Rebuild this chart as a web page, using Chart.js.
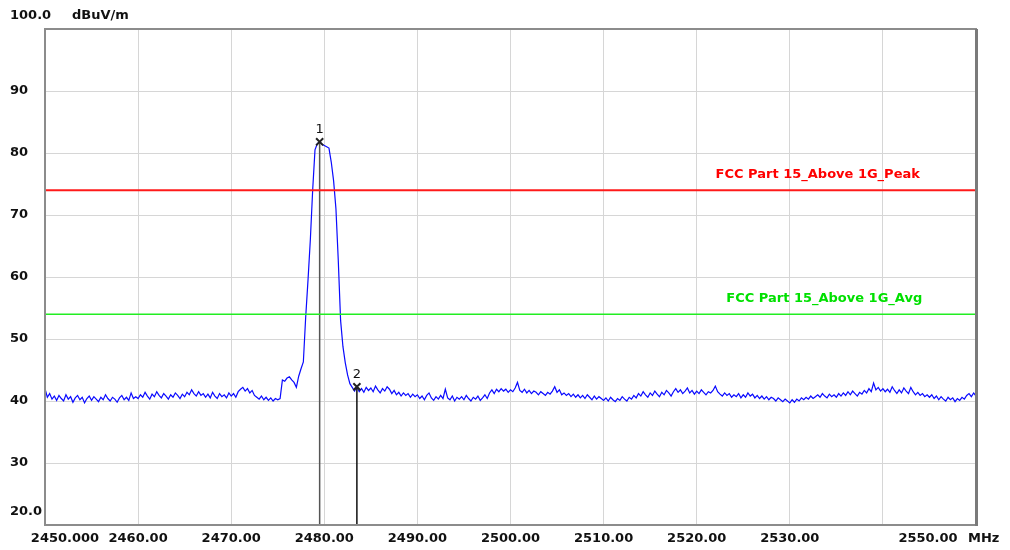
<!DOCTYPE html>
<html>
<head>
<meta charset="utf-8">
<script src="https://cdn.jsdelivr.net/npm/chart.js@4/dist/chart.umd.min.js"></script>
<style>
  html, body { margin: 0; padding: 0; background: #fff; }
  #wrap { width: 1010px; height: 550px; }
</style>
</head>
<body>
<div id="wrap"><canvas id="chart" width="1010" height="550"></canvas></div>
<script>
// sweep: 2450 - 2550 MHz, one reading every 0.25 MHz
const FREQ_START = 2450;
const FREQ_STEP = 0.25;
const levels = [
  42.0,40.6,41.2,40.3,40.8,40.1,40.9,40.4,40.0,41.0,40.3,40.7,39.8,40.5,40.9,40.2,40.6,39.7,40.4,40.8,
  40.1,40.7,40.3,39.9,40.6,40.2,41.0,40.4,40.0,40.6,40.3,39.8,40.5,40.9,40.2,40.6,40.1,41.3,40.4,40.7,
  40.4,41.0,40.6,41.4,40.8,40.3,41.1,40.7,41.5,40.9,40.5,41.2,40.8,40.3,41.0,40.6,41.3,40.9,40.4,41.1,
  40.7,41.4,41.0,41.8,41.2,40.8,41.5,40.9,41.2,40.6,41.1,40.5,41.4,40.8,40.4,41.2,40.7,41.0,40.5,41.3,
  40.8,41.2,40.6,41.5,41.9,42.2,41.6,42.0,41.3,41.7,40.9,40.6,40.3,40.8,40.2,40.6,40.1,40.5,40.0,40.4,
  40.2,40.4,43.4,43.2,43.7,43.9,43.4,43.0,42.2,44.0,45.2,46.3,53.5,59.5,66.0,74.0,80.5,81.5,81.8,81.4,
  81.2,81.0,80.8,78.5,75.5,71.0,62.7,53.0,48.8,46.2,44.2,42.8,42.2,41.6,42.3,41.5,42.0,41.4,42.2,41.7,
  42.1,41.5,42.4,41.8,41.3,42.0,41.6,42.3,41.9,41.2,41.7,41.0,41.4,40.8,41.3,40.9,41.2,40.6,41.1,40.7,
  41.0,40.4,40.8,40.2,40.9,41.3,40.5,40.1,40.7,40.3,40.9,40.4,41.9,40.5,40.2,40.8,40.0,40.6,40.3,40.7,
  40.2,40.9,40.4,40.0,40.6,40.3,40.8,40.1,40.5,41.0,40.4,41.3,41.8,41.2,41.9,41.5,42.0,41.6,41.9,41.4,
  41.8,41.5,42.1,43.0,41.7,41.4,41.9,41.3,41.7,41.2,41.6,41.4,41.0,41.5,41.2,40.9,41.4,41.1,41.6,42.3,
  41.4,41.8,41.0,41.3,40.9,41.2,40.7,41.1,40.6,41.0,40.5,40.9,40.4,41.0,40.6,40.2,40.8,40.3,40.7,40.4,
  40.1,40.5,40.0,40.6,40.2,39.9,40.4,40.1,40.7,40.3,40.0,40.6,40.3,40.9,40.5,41.2,40.8,41.5,41.0,40.6,
  41.3,40.9,41.6,41.1,40.7,41.4,41.0,41.7,41.3,40.8,41.5,42.0,41.4,41.8,41.2,41.6,42.1,41.3,41.7,41.1,
  41.6,41.2,41.8,41.4,41.0,41.5,41.3,41.7,42.4,41.5,41.1,40.8,41.3,40.9,41.2,40.6,41.0,40.7,41.2,40.5,
  41.0,40.6,41.3,40.8,41.1,40.5,40.9,40.4,40.8,40.3,40.7,40.2,40.6,40.4,40.0,40.5,40.2,39.9,40.3,40.0,
  39.7,40.2,39.8,40.3,40.0,40.5,40.2,40.6,40.3,40.8,40.4,40.7,41.0,40.6,41.2,40.8,40.5,41.1,40.7,41.0,
  40.6,41.2,40.8,41.3,40.9,41.5,41.0,41.6,41.2,40.8,41.4,41.1,41.7,41.3,42.0,41.5,42.9,41.8,42.2,41.6,
  42.0,41.5,41.9,41.4,42.3,41.7,41.2,41.8,41.3,42.1,41.6,41.2,42.2,41.5,41.0,41.4,40.9,41.2,40.7,41.0,
  40.6,41.0,40.4,40.8,40.2,40.7,40.3,40.0,40.6,40.2,40.5,39.9,40.4,40.1,40.6,40.3,40.9,41.2,40.7,41.3,
  40.8
];
const freqs = levels.map((_, i) => FREQ_START + i * FREQ_STEP);

// axes
const X_MIN = 2450, X_MAX = 2550, X_STEP = 10;
const Y_MIN = 20, Y_MAX = 100, Y_STEP = 10;

// limit lines
const limitNames = ['FCC Part 15_Above 1G_Peak', 'FCC Part 15_Above 1G_Avg'];
const limitLevels = [74, 54];

// markers
const markerNames = ['1', '2'];
const markerFreqs = [2479.5, 2483.5];
const markerLevels = [81.8, 42.3];

const FONT = 'DejaVu Sans';

const trace = freqs.map((f, i) => ({ x: f, y: levels[i] }));
const hline = v => [{ x: X_MIN, y: v }, { x: X_MAX, y: v }];
const vline = i => [{ x: markerFreqs[i], y: markerLevels[i] }, { x: markerFreqs[i], y: Y_MIN }];

const extras = {
  id: 'extras',
  afterDraw(chart) {
    const { ctx, chartArea: a, scales: { x, y } } = chart;
    ctx.save();
    // plot frame
    ctx.strokeStyle = '#8c8c8c';
    ctx.lineWidth = 2;
    ctx.strokeRect(a.left, a.top, a.right - a.left, a.bottom - a.top);
    ctx.strokeStyle = '#7a7a7a';
    ctx.lineWidth = 3;
    ctx.beginPath();
    ctx.moveTo(a.right + 0.5, a.top);
    ctx.lineTo(a.right + 0.5, a.bottom + 1);
    ctx.stroke();

    ctx.fillStyle = '#111';
    ctx.font = 'bold 13px ' + FONT;
    ctx.textBaseline = 'middle';
    ctx.textAlign = 'left';
    ctx.fillText('100.0', 10, 16);
    ctx.fillText('dBuV/m', 72, 16);
    ctx.fillText('20.0', 10, y.getPixelForValue(Y_MIN) - 13);
    ctx.textAlign = 'center';
    ctx.fillText(X_MIN.toFixed(3), x.getPixelForValue(X_MIN) + 20, a.bottom + 14);
    ctx.fillText(X_MAX.toFixed(2), x.getPixelForValue(X_MAX) - 48, a.bottom + 14);
    ctx.textAlign = 'left';
    ctx.fillText('MHz', x.getPixelForValue(X_MAX) - 8, a.bottom + 14);

    // limit labels
    ctx.font = 'bold 13px ' + FONT;
    ctx.textAlign = 'center';
    ctx.fillStyle = '#ff0000';
    ctx.fillText(limitNames[0], x.getPixelForValue(2533.0), y.getPixelForValue(limitLevels[0]) - 16);
    ctx.fillStyle = '#00e000';
    ctx.fillText(limitNames[1], x.getPixelForValue(2533.7), y.getPixelForValue(limitLevels[1]) - 16);

    // marker numbers
    ctx.fillStyle = '#111';
    ctx.font = '13px ' + FONT;
    const pts = chart.getDatasetMeta(0).data;
    pts.forEach((p, i) => ctx.fillText(markerNames[i], p.x, p.y - 12));
    ctx.restore();
  }
};

new Chart(document.getElementById('chart'), {
  type: 'line',
  data: {
    datasets: [
      { data: markerFreqs.map((f, i) => ({ x: f, y: markerLevels[i] })), showLine: false,
        pointStyle: 'crossRot', pointRadius: 5, pointBorderWidth: 2, borderColor: '#222' },
      { data: hline(limitLevels[0]), borderColor: '#ff1a1a', borderWidth: 2, pointRadius: 0 },
      { data: hline(limitLevels[1]), borderColor: '#22ee22', borderWidth: 1.5, pointRadius: 0 },
      { data: vline(0), borderColor: '#555', borderWidth: 1.5, pointRadius: 0 },
      { data: vline(1), borderColor: '#111', borderWidth: 1.5, pointRadius: 0 },
      { data: trace, borderColor: '#0a0aff', borderWidth: 1.2, pointRadius: 0, tension: 0 }
    ]
  },
  options: {
    responsive: false,
    animation: false,
    layout: { padding: { left: 10, top: 29, right: 34, bottom: 0 } },
    plugins: { legend: { display: false }, tooltip: { enabled: false } },
    scales: {
      x: {
        type: 'linear', min: X_MIN, max: X_MAX,
        grid: { color: '#d6d6d6', drawTicks: false },
        border: { display: false },
        ticks: {
          stepSize: X_STEP, autoSkip: false, maxRotation: 0, padding: 6,
          color: '#111', font: { family: FONT, size: 13, weight: 'bold' },
          callback: v => (v === X_MIN || v >= 2540) ? '' : v.toFixed(2)
        },
        afterFit: s => { s.height = 25; }
      },
      y: {
        min: Y_MIN, max: Y_MAX,
        grid: { color: '#d6d6d6', drawTicks: false },
        border: { display: false },
        ticks: {
          stepSize: Y_STEP, crossAlign: 'far', padding: 8,
          color: '#111', font: { family: FONT, size: 13, weight: 'bold' },
          callback: v => (v === Y_MIN || v === Y_MAX) ? '' : String(v)
        },
        afterFit: s => { s.width = 35; }
      }
    }
  },
  plugins: [extras]
});
</script>
</body>
</html>
